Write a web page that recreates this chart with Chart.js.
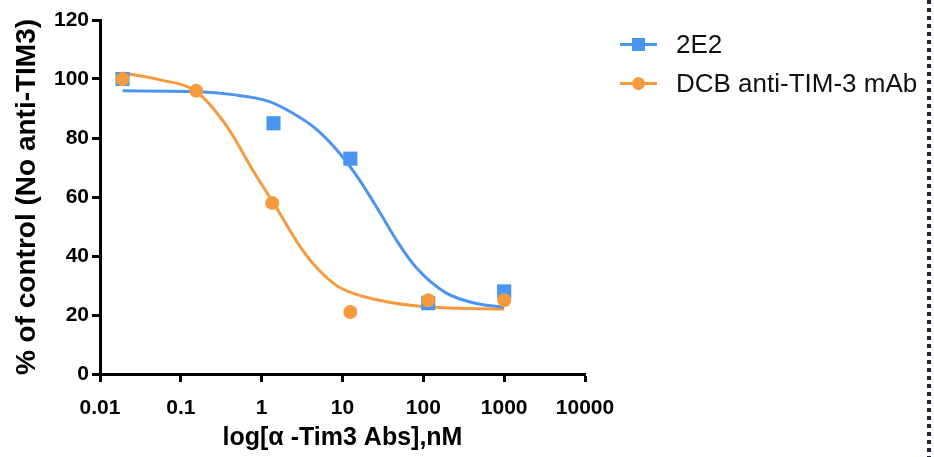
<!DOCTYPE html>
<html>
<head>
<meta charset="utf-8">
<script src="https://cdn.jsdelivr.net/npm/chart.js@4/dist/chart.umd.min.js"></script>
<style>
  html, body { margin: 0; padding: 0; background: #fff; }
  #wrap { position: relative; width: 934px; height: 457px; overflow: hidden; }
  #chart { position: absolute; left: 0; top: 0; }
  .legend { position: absolute; left: 620px; top: 24px; font-family: 'Liberation Sans', Arial, sans-serif; font-size: 26px; color: #111; }
  .legend .row { position: relative; height: 39px; line-height: 40px; padding-left: 56px; white-space: nowrap; }
  .legend .line { position: absolute; left: 0; top: 19px; width: 37px; height: 3px; }
  .legend .mark { position: absolute; left: 12px; top: 14px; width: 13px; height: 13px; }
  .dots { position: absolute; left: 927px; top: 0; width: 4px; height: 457px;
          background: repeating-linear-gradient(to bottom, #1c2541 0 4px, transparent 4px 8px); }
</style>
</head>
<body>
<div id="wrap">
  <canvas id="chart" width="934" height="457"></canvas>
  <div class="legend" id="legend"></div>
  <div class="dots"></div>
</div>
<script>
// ── Data ──────────────────────────────────────────────────
const xTicks = [0.01, 0.1, 1, 10, 100, 1000, 10000];

const seriesNames = ['2E2', 'DCB anti-TIM-3 mAb'];
const seriesColors = ['#4A95F2', '#F79A3E'];

// measured points
const doseA = [0.019, 1.4, 12.5, 115, 1000];
const respA = [100, 85, 73, 24, 28];
const doseB = [0.019, 0.155, 1.35, 12.5, 115, 1000];
const respB = [100, 96, 58, 21, 25, 25];

// fitted curves
const fitXA = [0.019, 0.17, 0.44, 1.2, 2.4, 4.5, 9.1, 16.2, 28.6, 50, 82, 190, 490, 1000];
const fitYA = [96, 95.7, 94.7, 92.5, 88.5, 83.5, 75, 65.8, 55, 44, 36, 27.5, 23.7, 22.7];
const fitXB = [0.019, 0.054, 0.157, 0.37, 0.78, 1.4, 3.2, 5, 9, 28.6, 118, 1000];
const fitYB = [102, 99.8, 95.6, 84, 69, 58, 42, 35.5, 29.5, 25, 22.7, 22];

const toPts = (xs, ys) => xs.map((x, i) => ({ x, y: ys[i] }));

const font = (size) => ({ family: "'Liberation Sans', Arial, sans-serif", size, weight: 'bold' });

new Chart(document.getElementById('chart'), {
  type: 'scatter',
  data: {
    datasets: [
      { data: toPts(doseB, respB), showLine: false, pointStyle: 'circle', pointRadius: 7,
        backgroundColor: seriesColors[1], borderWidth: 0, order: 0 },
      { data: toPts(doseA, respA), showLine: false, pointStyle: 'rect', pointRadius: 10,
        backgroundColor: seriesColors[0], borderWidth: 0, order: 1 },
      { data: toPts(fitXA, fitYA), showLine: true, pointRadius: 0, borderColor: seriesColors[0],
        borderWidth: 3, cubicInterpolationMode: 'monotone', order: 2 },
      { data: toPts(fitXB, fitYB), showLine: true, pointRadius: 0, borderColor: seriesColors[1],
        borderWidth: 3, cubicInterpolationMode: 'monotone', order: 3 },
    ],
  },
  options: {
    responsive: false,
    animation: false,
    layout: { padding: { left: 0, right: 349, top: 20, bottom: 0 } },
    plugins: { legend: { display: false }, tooltip: { enabled: false } },
    scales: {
      x: {
        type: 'logarithmic',
        min: 0.01,
        max: 10000,
        afterBuildTicks: (s) => { s.ticks = xTicks.map(v => ({ value: v })); },
        afterFit: (s) => { s.height = 83; },
        border: { color: '#000', width: 3 },
        grid: { drawOnChartArea: false, drawTicks: true, tickLength: 8, tickColor: '#000', tickWidth: 3 },
        ticks: { color: '#000', font: font(21), padding: 14, maxRotation: 0, autoSkip: false,
                 callback: (v) => String(v) },
        title: { display: true, text: 'log[α -Tim3 Abs],nM', color: '#000', font: font(25), padding: { top: 0 } },
      },
      y: {
        min: 0,
        max: 120,
        afterFit: (s) => { s.width = 100; },
        border: { color: '#000', width: 3 },
        grid: { drawOnChartArea: false, drawTicks: true, tickLength: 8, tickColor: '#000', tickWidth: 3 },
        ticks: { color: '#000', font: font(21), padding: 3, stepSize: 20 },
        title: { display: true, text: '% of control (No anti-TIM3)', color: '#000', font: font(28), padding: { top: 10, bottom: 0 } },
      },
    },
  },
});

// ── Legend ─────────────────────────────────────────────────
const legend = document.getElementById('legend');
seriesNames.forEach((name, i) => {
  const row = document.createElement('div');
  row.className = 'row';
  const radius = i === 1 ? '50%' : '0';
  row.innerHTML = `<span class="line" style="background:${seriesColors[i]}"></span>` +
    `<span class="mark" style="background:${seriesColors[i]};border-radius:${radius}"></span>${name}`;
  legend.appendChild(row);
});
</script>
</body>
</html>
